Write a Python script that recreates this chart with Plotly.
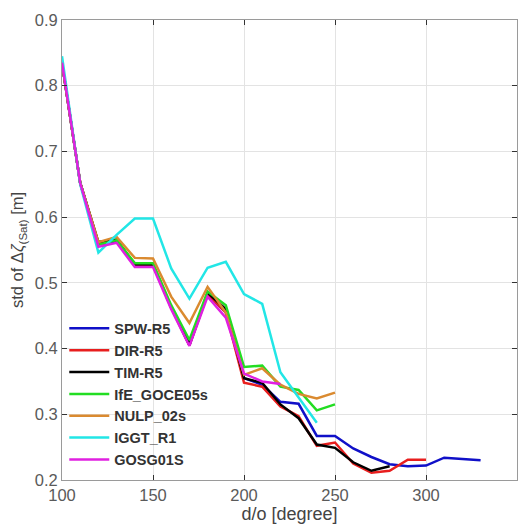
import plotly.graph_objects as go

deg_long = [100,110,120,130,140,150,160,170,180,190,200,210,220,230,240,250,260,270,280,290,300,310,320,330]

spw = [0.835,0.652,0.558,0.563,0.527,0.527,0.462,0.405,0.483,0.455,0.355,0.345,0.319,0.316,0.267,0.267,0.248,0.235,0.224,0.221,0.222,0.234,0.232,0.230]
deg_dir = deg_long[:21]
dir_r5 = [0.835,0.652,0.560,0.565,0.527,0.527,0.462,0.405,0.483,0.455,0.348,0.342,0.312,0.297,0.252,0.257,0.225,0.211,0.214,0.231,0.231]
deg_tim = deg_long[:19]
tim = [0.835,0.652,0.562,0.566,0.528,0.528,0.463,0.406,0.485,0.460,0.355,0.348,0.315,0.294,0.254,0.249,0.227,0.214,0.221]
deg_ife = deg_long[:16]
ife = [0.835,0.652,0.558,0.565,0.530,0.530,0.466,0.413,0.487,0.466,0.372,0.374,0.342,0.337,0.306,0.315]
nulp = [0.835,0.652,0.562,0.570,0.538,0.537,0.479,0.439,0.494,0.455,0.360,0.370,0.345,0.331,0.324,0.333]
deg_iggt = deg_long[:15]
iggt = [0.845,0.650,0.546,0.573,0.598,0.598,0.522,0.476,0.523,0.532,0.483,0.468,0.364,0.325,0.287]
deg_gosg = deg_long[:13]
gosg = [0.835,0.652,0.555,0.561,0.524,0.524,0.460,0.404,0.479,0.447,0.362,0.350,0.346]

names = ["SPW-R5","DIR-R5","TIM-R5","IfE_GOCE05s","NULP_02s","IGGT_R1","GOSG01S"]
colors = ["#1010C8","#E81E1E","#000000","#22DD22","#DA8A30","#22E6E6","#E020E0"]
xs = [deg_long, deg_dir, deg_tim, deg_ife, deg_ife, deg_iggt, deg_gosg]
ys = [spw, dir_r5, tim, ife, nulp, iggt, gosg]

fig = go.Figure()
for n, c, x, y in zip(names, colors, xs, ys):
    fig.add_trace(go.Scatter(x=x, y=y, mode="lines", name=n,
                             line=dict(color=c, width=2.5)))

axis_common = dict(showgrid=True, gridcolor="#E3E3E3", gridwidth=1,
                   showline=True, linecolor="#9A9A9A", linewidth=1,
                   mirror="ticks", ticks="inside", ticklen=5, tickcolor="#333333",
                   tickfont=dict(family="Liberation Sans, Arial", size=16.5, color="#5A5A5A"),
                   zeroline=False)

fig.update_layout(
    width=529, height=530,
    margin=dict(l=62, r=12, t=11, b=50),
    paper_bgcolor="white", plot_bgcolor="white",
    xaxis=dict(range=[100, 350], tickvals=[100,150,200,250,300,350],
               title=dict(text="d/o [degree]", standoff=3,
                          font=dict(family="Liberation Sans, Arial", size=18, color="#444444")),
               **axis_common),
    yaxis=dict(range=[0.2, 0.9], tickvals=[0.2,0.3,0.4,0.5,0.6,0.7,0.8,0.9],
               tickformat=".1f",
               title=dict(text="std of Δ<i>ζ</i><sub>(Sat)</sub> [m]", standoff=6,
                          font=dict(family="Liberation Sans, Arial", size=16.5, color="#444444")),
               **axis_common),
    legend=dict(x=0.005, y=0.01, xanchor="left", yanchor="bottom",
                bgcolor="rgba(0,0,0,0)", borderwidth=0,
                font=dict(family="Liberation Sans, Arial", size=14.5, color="#333333", weight="bold"),
                tracegroupgap=0, itemwidth=40),
    showlegend=True,
)

fig.write_html("out.html")
